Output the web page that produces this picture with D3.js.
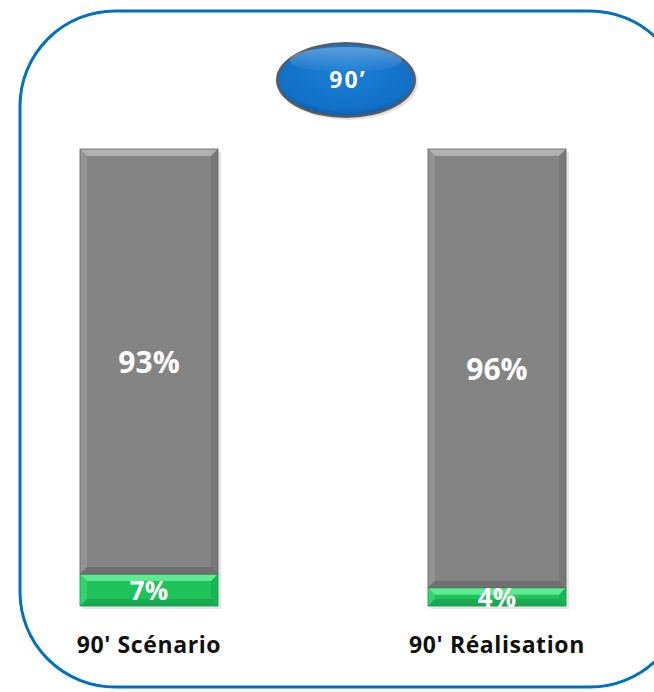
<!DOCTYPE html>
<html><head><meta charset="utf-8">
<script src="https://cdn.jsdelivr.net/npm/d3@7"></script>
<style>body{margin:0;background:#fff}svg{display:block}</style>
</head><body>
<script>
const categories = ["90' Scénario", "90' Réalisation"];
const realise = [0.07, 0.04];
const nonRealise = [0.93, 0.96];
const title = "90’";

const W = 654, H = 692;
const svg = d3.select("body").append("svg").attr("width", W).attr("height", H);
const defs = svg.append("defs");

// outer rounded frame
svg.append("rect").attr("x", 20).attr("y", 11).attr("width", 665).attr("height", 676)
  .attr("rx", 95).attr("ry", 95).attr("fill", "none").attr("stroke", "#0070c0").attr("stroke-width", 3);

const x = d3.scaleBand().domain(categories).range([-24.4, 670.4]).paddingInner(0.6034).paddingOuter(0.3);
const y = d3.scaleLinear().domain([0, 1]).range([606, 149]);

function bevelBar(g, x0, y0, w, h, base, light, dark, b) {
  g.append("rect").attr("x", x0).attr("y", y0).attr("width", w).attr("height", h).attr("fill", base);
  const bb = Math.min(b, h / 2);
  g.append("polygon").attr("points", [[x0,y0],[x0+w,y0],[x0+w-bb,y0+bb],[x0+bb,y0+bb]].join(" ")).attr("fill", light);
  g.append("polygon").attr("points", [[x0,y0],[x0+bb,y0+bb],[x0+bb,y0+h-bb],[x0,y0+h]].join(" ")).attr("fill", light).attr("opacity", 0.35);
  g.append("polygon").attr("points", [[x0+w,y0],[x0+w,y0+h],[x0+w-bb,y0+h-bb],[x0+w-bb,y0+bb]].join(" ")).attr("fill", dark).attr("opacity", 0.35);
  g.append("polygon").attr("points", [[x0,y0+h],[x0+w,y0+h],[x0+w-bb,y0+h-bb],[x0+bb,y0+h-bb]].join(" ")).attr("fill", dark).attr("opacity", 0.6);
  g.append("rect").attr("x", x0).attr("y", y0).attr("width", w).attr("height", h).attr("fill", "none").attr("stroke", dark).attr("stroke-width", 0.8);
}

const font = "'Open Sans', sans-serif";
categories.forEach((c, i) => {
  const g = svg.append("g");
  const bx = x(c), bw = x.bandwidth();
  g.append("rect").attr("x", bx + 3).attr("y", y(1) + 3).attr("width", bw).attr("height", y(0) - y(1))
    .attr("fill", "#000").attr("opacity", 0.1);
  bevelBar(g, bx, y(realise[i]), bw, y(0) - y(realise[i]), "#20c25c", "#5eea92", "#149a48", 7);
  bevelBar(g, bx, y(1), bw, y(realise[i]) - y(1), "#848484", "#b0b0b0", "#626262", 7);
  g.append("text").attr("x", bx + bw / 2).attr("y", (y(1) + y(realise[i])) / 2 + 1).attr("dy", "0.35em")
    .attr("text-anchor", "middle").attr("fill", "#fff").attr("font-family", font).attr("font-weight", "bold")
    .attr("font-size", 30).text(Math.round(nonRealise[i] * 100) + "%");
  g.append("text").attr("x", bx + bw / 2).attr("y", (y(0) + y(realise[i])) / 2 + 1).attr("dy", "0.35em")
    .attr("text-anchor", "middle").attr("fill", "#fff").attr("font-family", font).attr("font-weight", "bold")
    .attr("font-size", 26).text(Math.round(realise[i] * 100) + "%");
  svg.append("text").attr("x", bx + bw / 2).attr("y", 645).attr("dy", "0.35em")
    .attr("text-anchor", "middle").attr("fill", "#111").attr("font-family", font).attr("font-weight", "bold")
    .attr("font-size", 23).attr("letter-spacing", 0.6).text(c);
});

// title ellipse
const rg = defs.append("radialGradient").attr("id", "blue").attr("cx", "50%").attr("cy", "40%").attr("r", "60%");
rg.append("stop").attr("offset", "0%").attr("stop-color", "#1b7fd6");
rg.append("stop").attr("offset", "85%").attr("stop-color", "#1170c8");
rg.append("stop").attr("offset", "100%").attr("stop-color", "#0b5eae");
const lg = defs.append("linearGradient").attr("id", "hl").attr("x1", 0).attr("y1", 0).attr("x2", 0).attr("y2", 1);
lg.append("stop").attr("offset", "0%").attr("stop-color", "#fff").attr("stop-opacity", 0.3);
lg.append("stop").attr("offset", "100%").attr("stop-color", "#fff").attr("stop-opacity", 0);
svg.append("ellipse").attr("cx", 348).attr("cy", 82).attr("rx", 70).attr("ry", 38).attr("fill", "#000").attr("opacity", 0.12);
svg.append("ellipse").attr("cx", 346).attr("cy", 80).attr("rx", 70).attr("ry", 38).attr("fill", "#5a5a5a");
svg.append("ellipse").attr("cx", 346).attr("cy", 80).attr("rx", 67.5).attr("ry", 35.5).attr("fill", "url(#blue)");
svg.append("ellipse").attr("cx", 346).attr("cy", 60).attr("rx", 56).attr("ry", 13).attr("fill", "url(#hl)");
svg.append("text").attr("x", 348).attr("y", 80).attr("dy", "0.35em").attr("text-anchor", "middle")
  .attr("fill", "#fff").attr("font-family", font).attr("font-weight", "bold").attr("font-size", 23)
  .attr("letter-spacing", 2).text(title);
</script>
</body></html>
